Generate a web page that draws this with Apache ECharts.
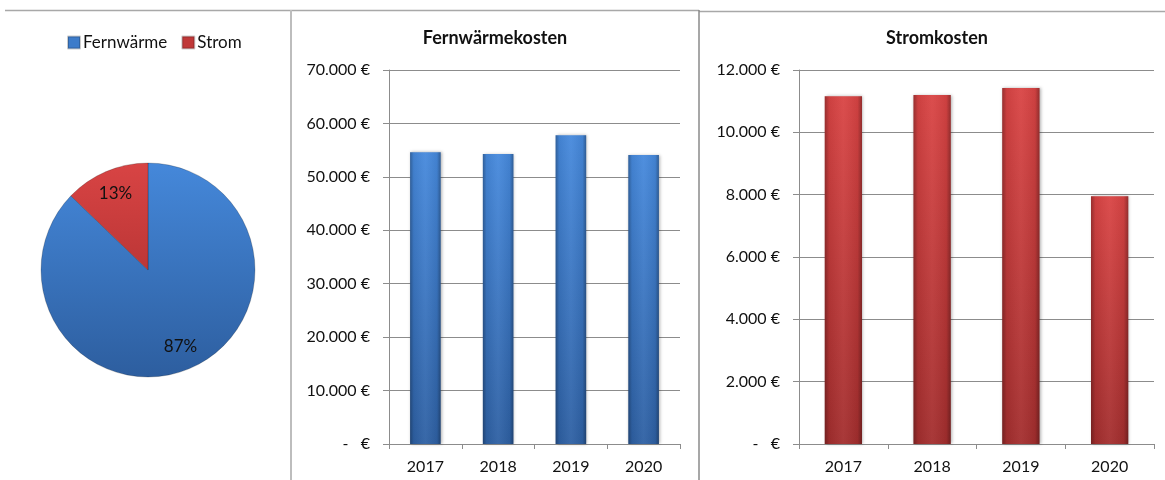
<!DOCTYPE html>
<html>
<head>
<meta charset="utf-8">
<script src="https://cdn.jsdelivr.net/npm/echarts@6/dist/echarts.min.js"></script>
<style>
  html, body { margin: 0; padding: 0; background: #fff; }
  #chart { width: 1165px; height: 480px; }
</style>
</head>
<body>
<div id="chart"></div>
<script>
// Energy costs per year (EUR)
const years = ['2017', '2018', '2019', '2020'];
const fernwaermeKosten = [54600, 54300, 57800, 54100];
const stromKosten = [11160, 11200, 11420, 7950];
const shareNames = ['Fernwärme', 'Strom'];

const FONT = 'Lato, "Liberation Sans", sans-serif';

// German currency format: 70.000 €, zero shown as a dash
function euro(v) {
  if (v === 0) return '-   €';
  return String(v).replace(/\B(?=(\d{3})+(?!\d))/g, '.') + ' €';
}

const chart = echarts.init(document.getElementById('chart'));

function vGrad(top, bottom) {
  return new echarts.graphic.LinearGradient(0, 0, 0, 1, [
    { offset: 0, color: top }, { offset: 1, color: bottom }
  ]);
}
// darker rim on the left/right of each bar
const rimShade = new echarts.graphic.LinearGradient(0, 0, 1, 0, [
  { offset: 0, color: 'rgba(0,0,0,0.30)' },
  { offset: 0.12, color: 'rgba(0,0,0,0.06)' },
  { offset: 0.5, color: 'rgba(255,255,255,0.05)' },
  { offset: 0.88, color: 'rgba(0,0,0,0.06)' },
  { offset: 1, color: 'rgba(0,0,0,0.32)' }
]);

const blueFill = vGrad('#4689dc', '#2e60a3');
const redFill = vGrad('#d94444', '#a32e2e');

function valueAxis(gridIndex, max, interval) {
  return {
    type: 'value', gridIndex, min: 0, max, interval,
    axisLine: { show: true, lineStyle: { color: '#8c8c8c', width: 1 } },
    axisTick: { show: true, length: 6, lineStyle: { color: '#8c8c8c' } },
    splitLine: { show: true, lineStyle: { color: '#8c8c8c', width: 1 } },
    axisLabel: { formatter: euro, margin: 19, color: '#111', fontSize: 16, fontFamily: FONT }
  };
}
function catAxis(gridIndex) {
  return {
    type: 'category', gridIndex, data: years, boundaryGap: true,
    axisLine: { show: true, lineStyle: { color: '#8c8c8c', width: 1 } },
    axisTick: { show: true, length: 5, alignWithLabel: false, lineStyle: { color: '#8c8c8c' } },
    axisLabel: { margin: 15, color: '#111', fontSize: 16, fontFamily: FONT }
  };
}
function barPair(idx, data, fill) {
  return [
    {
      type: 'bar', xAxisIndex: idx, yAxisIndex: idx, data, barWidth: '42%',
      itemStyle: { color: fill, shadowBlur: 3, shadowColor: 'rgba(0,0,0,0.3)', shadowOffsetX: 1, shadowOffsetY: 0 },
      silent: true
    },
    {
      type: 'bar', xAxisIndex: idx, yAxisIndex: idx, data, barWidth: '42%', barGap: '-100%',
      itemStyle: { color: rimShade },
      silent: true
    }
  ];
}

// pie shows the most recent year
const last = years.length - 1;
const pieData = [
  { name: shareNames[0], value: fernwaermeKosten[last] },
  { name: shareNames[1], value: stromKosten[last] }
];
const pieBlue = new echarts.graphic.LinearGradient(0, 163, 0, 377, [
  { offset: 0, color: '#4588da' }, { offset: 1, color: '#2d5e9f' }
], true);
const pieRed = new echarts.graphic.LinearGradient(0, 163, 0, 377, [
  { offset: 0, color: '#d84444' }, { offset: 0.5, color: '#bc3636' }, { offset: 1, color: '#a02c2c' }
], true);

chart.setOption({
  animation: false,
  legend: {
    left: 62, top: 29, itemWidth: 12, itemHeight: 12, itemGap: 14,
    icon: 'rect',
    textStyle: { fontSize: 17, fontFamily: FONT, color: '#111', padding: [0, 0, 0, -2] },
    data: [
      { name: shareNames[0], itemStyle: { color: '#3d7cca' } },
      { name: shareNames[1], itemStyle: { color: '#c03838' } }
    ]
  },
  grid: [
    { left: 389, right: 485, top: 70, bottom: 36 },
    { left: 799, right: 11, top: 70, bottom: 36 }
  ],
  xAxis: [catAxis(0), catAxis(1)],
  yAxis: [valueAxis(0, 70000, 10000), valueAxis(1, 12000, 2000)],
  series: [
    {
      type: 'pie', center: [148, 270], radius: 107, startAngle: 90, clockwise: true,
      percentPrecision: 0, silent: true,
      data: pieData.map((d, i) => ({ ...d, itemStyle: { color: i === 0 ? pieBlue : pieRed } })),
      itemStyle: { borderColor: 'rgba(0,0,0,0.2)', borderWidth: 1 },
      label: { show: false }, labelLine: { show: false }
    },
    {
      // label ring: places percentages at ~3/4 of the pie radius
      type: 'pie', center: [148, 270], radius: 160, startAngle: 90, clockwise: true,
      percentPrecision: 0, silent: true,
      data: pieData,
      itemStyle: { color: 'rgba(0,0,0,0)' },
      label: { show: true, position: 'inside', formatter: '{d}%', fontSize: 17, fontFamily: FONT, color: '#111' },
      labelLine: { show: false }
    },
    ...barPair(0, fernwaermeKosten, blueFill),
    ...barPair(1, stromKosten, redFill)
  ],
  graphic: [
    { type: 'line', shape: { x1: 5, y1: 10.5, x2: 699, y2: 10.5 }, style: { stroke: '#a8a8a8', lineWidth: 1.5 }, silent: true },
    { type: 'line', shape: { x1: 699, y1: 11.5, x2: 1165, y2: 11.5 }, style: { stroke: '#a8a8a8', lineWidth: 1.5 }, silent: true },
    { type: 'line', shape: { x1: 291, y1: 10, x2: 291, y2: 480 }, style: { stroke: '#bdbdbd', lineWidth: 2 }, silent: true },
    { type: 'line', shape: { x1: 699, y1: 10, x2: 699, y2: 480 }, style: { stroke: '#8a8a8a', lineWidth: 1.5 }, silent: true },
    { type: 'text', silent: true, style: { text: 'Fernwärmekosten', x: 495, y: 38, textAlign: 'center', textVerticalAlign: 'middle', font: 'bold 18px ' + FONT, fill: '#111' } },
    { type: 'text', silent: true, style: { text: 'Stromkosten', x: 937, y: 38, textAlign: 'center', textVerticalAlign: 'middle', font: 'bold 18px ' + FONT, fill: '#111' } }
  ]
});
</script>
</body>
</html>
